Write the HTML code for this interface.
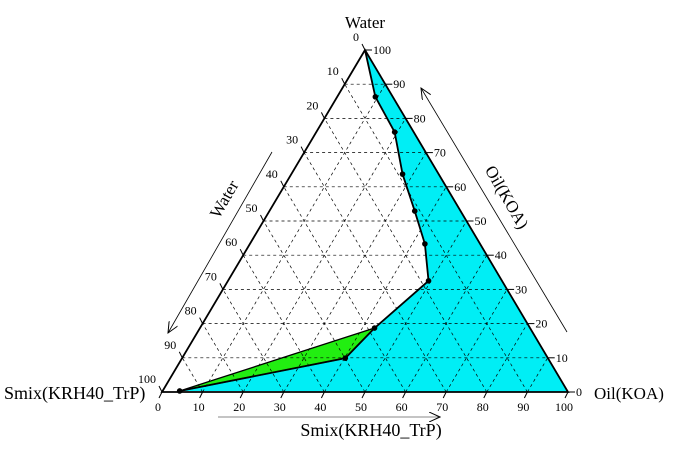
<!DOCTYPE html>
<html><head><meta charset="utf-8"><style>
html,body{margin:0;padding:0;background:#fff;}
svg{display:block;font-family:"Liberation Serif",serif;}
</style></head><body>
<svg id="chart" width="699" height="455" viewBox="0 0 699 455">
<defs><marker id="ah" markerWidth="12" markerHeight="10" refX="11" refY="5" orient="auto" markerUnits="userSpaceOnUse"><path d="M0,0 L11,5 L0,10" fill="none" stroke="#000" stroke-width="1"/></marker></defs>
<g id="cyan"></g><g id="grid"></g><g id="fg"></g>
<text x="365" y="28" font-size="17" text-anchor="middle">Water</text>
<text x="4" y="399" font-size="18">Smix(KRH40_TrP)</text>
<text x="594" y="399" font-size="17">Oil(KOA)</text>
<text x="371" y="436" font-size="18" text-anchor="middle">Smix(KRH40_TrP)</text>
<text transform="translate(229,202) rotate(-60)" font-size="17" text-anchor="middle">Water</text>
<text transform="translate(502,200) rotate(60)" font-size="17" text-anchor="middle">Oil(KOA)</text>
<line x1="272" y1="152" x2="168" y2="333" stroke="#000" stroke-width="0.8" marker-end="url(#ah)"/>
<line x1="567" y1="332" x2="421" y2="88" stroke="#000" stroke-width="0.8" marker-end="url(#ah)"/>
<line x1="218" y1="417" x2="440" y2="417" stroke="#888" stroke-width="1" marker-end="url(#ah)"/>
</svg>
<script>
// boundary points: bottom-axis value (%) and right-axis/oil value (%)
const boundaryB = [0, 9.4, 19.3, 27.4, 35.8, 43.1, 49.4, 43.0, 40.2, 4.2];
const boundaryH = [100, 86.3, 76.0, 63.7, 52.9, 43.3, 32.5, 18.7, 9.9, 0.3];
const dotIdx = [1,2,3,4,5,6,7,8,9];
const ticks = [0,10,20,30,40,50,60,70,80,90,100];
const X0=162, Y0=392, W=406, H=342;
function px(b,h){return [X0+W*(b+h/2)/100, Y0-H*h/100];}
const NS="http://www.w3.org/2000/svg";
function mk(tag,attrs,parent,name){const e=document.createElementNS(NS,tag);for(const k in attrs)e.setAttribute(k,attrs[k]);


document.getElementById(parent).appendChild(e);return e;}
const pts=boundaryB.map((b,i)=>px(b,boundaryH[i]));
const cy=pts.map(p=>p.join(',')).concat([px(100,0).join(',')]).join(' ');
mk('polygon',{points:cy,fill:'#00eef5',stroke:'none'},'cyan','oil-rich-region');
const n=pts.length;
const g=[pts[n-1],pts[n-2],pts[n-3]].map(p=>p.join(',')).join(' ');
mk('polygon',{points:g,fill:'#22ee11',stroke:'#000','stroke-width':1.3},'cyan','gel-region');
for(let i=1;i<10;i++){const v=i*10;
 let a=px(0,v),b=px(100-v,v);mk('line',{x1:a[0],y1:a[1],x2:b[0],y2:b[1],stroke:'#000','stroke-width':0.7,'stroke-dasharray':'3,3'},'grid','grid-line-h');
 a=px(v,0);b=px(v,100-v);mk('line',{x1:a[0],y1:a[1],x2:b[0],y2:b[1],stroke:'#000','stroke-width':0.7,'stroke-dasharray':'3,3'},'grid','grid-line-b');
 a=px(v,0);b=px(0,v);mk('line',{x1:a[0],y1:a[1],x2:b[0],y2:b[1],stroke:'#000','stroke-width':0.7,'stroke-dasharray':'3,3'},'grid','grid-line-w');
}
const T=[px(0,100),px(0,0),px(100,0)].map(p=>p.join(',')).join(' ');
mk('polygon',{points:T,fill:'none',stroke:'#000','stroke-width':1.8},'fg','triangle-frame');
mk('polyline',{points:pts.map(p=>p.join(',')).join(' '),fill:'none',stroke:'#000','stroke-width':1.8},'fg','phase-boundary');
dotIdx.forEach(i=>mk('circle',{cx:pts[i][0],cy:pts[i][1],r:2.8,fill:'#000'},'fg','boundary-point'));
ticks.forEach(v=>{
 let p=px(v,0);mk('line',{x1:p[0],y1:p[1],x2:p[0]-3,y2:p[1]+6,stroke:'#000'},'fg','bottom-tick');
 let t=mk('text',{x:p[0]-4,y:p[1]+19,'font-size':12,'text-anchor':'middle'},'fg','bottom-tick-label');t.textContent=v;
 p=px(100-v,v);mk('line',{x1:p[0],y1:p[1],x2:p[0]+7,y2:p[1],stroke:'#000'},'fg','right-tick');
 t=mk('text',{x:p[0]+8,y:p[1]+4,'font-size':12},'fg','right-tick-label');t.textContent=v;
 p=px(0,100-v);mk('line',{x1:p[0],y1:p[1],x2:p[0]-3,y2:p[1]-6,stroke:'#000'},'fg','left-tick');
 t=mk('text',{x:p[0]-6,y:p[1]-9,'font-size':12,'text-anchor':'end'},'fg','left-tick-label');t.textContent=v;
});
</script>
</body></html>
